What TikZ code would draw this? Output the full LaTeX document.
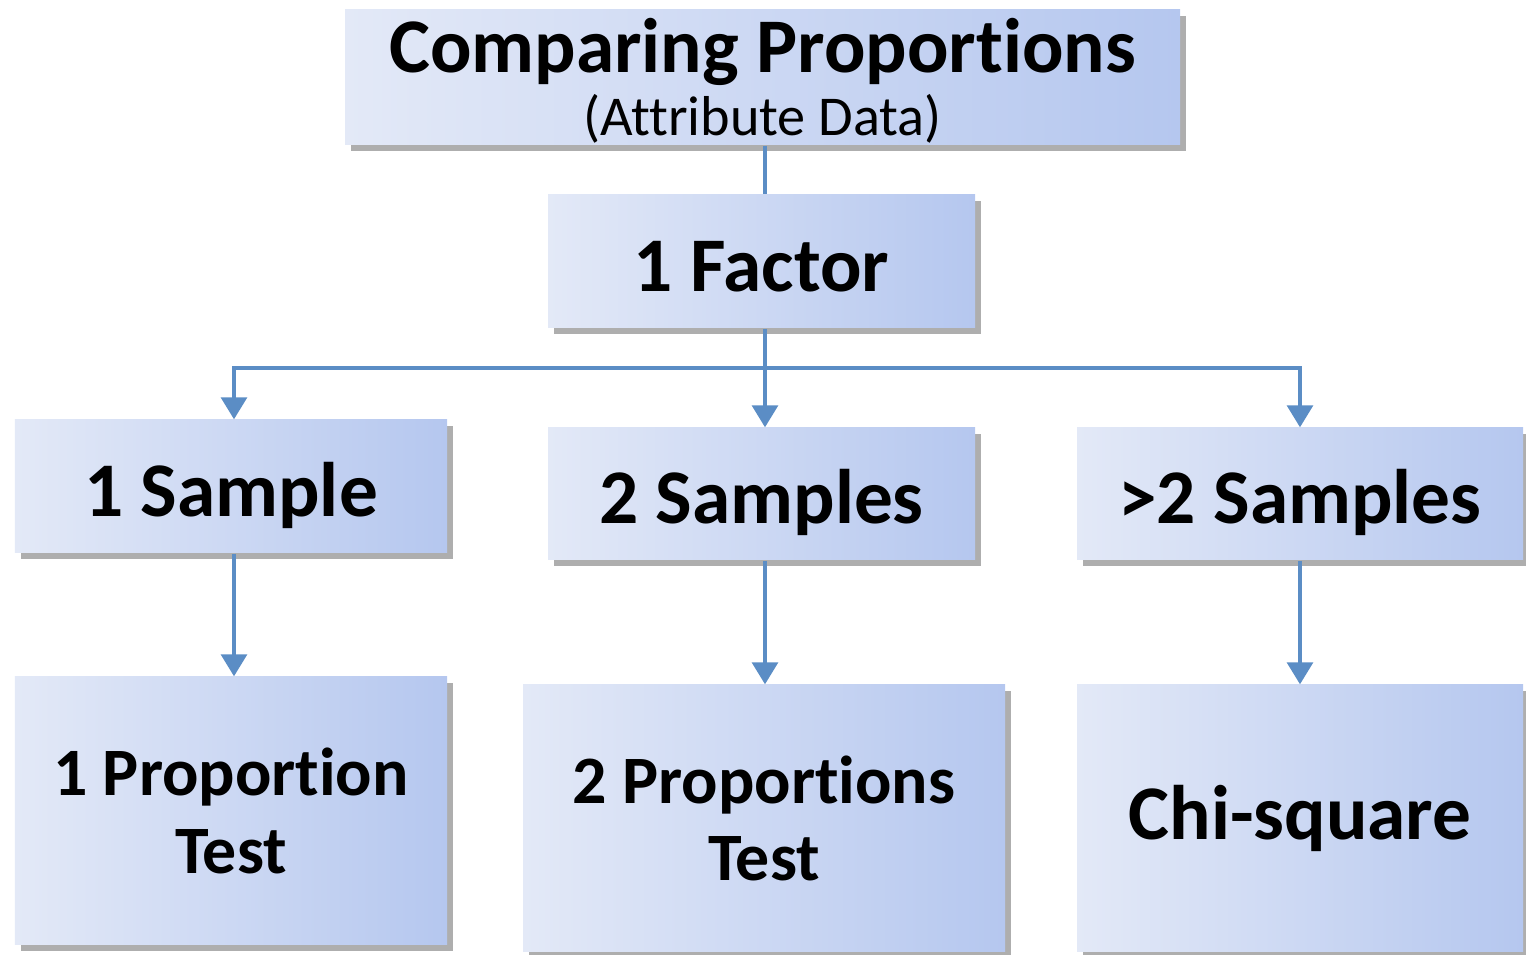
\documentclass[tikz,border=0pt]{standalone}
\usepackage{fontspec}
\setmainfont{Carlito}[Ligatures=NoCommon]
\usepackage{tikz}
\usepackage{xcolor}
\usetikzlibrary{arrows.meta, positioning, shadows}
\definecolor{boxlo}{HTML}{E3E9F7}
\definecolor{boxhi}{HTML}{B5C7EF}
\definecolor{linkblue}{HTML}{5B8DC5}
\tikzstyle{box} = [rectangle,
inner sep=0pt,
left color=boxlo, right color=boxhi,
drop shadow={shadow xshift=0.06cm, shadow yshift=-0.06cm, opacity=0.45, fill=black!70},
align=center, text centered,
font=\fontsize{22}{25}\selectfont\bfseries]
\tikzstyle{single} = [text height=19.8pt, text depth=2.8pt]
\tikzstyle{test} = [font=\fontsize{19.3}{22}\selectfont\bfseries]
\tikzstyle{arrow} = [line width=0.9pt, draw=linkblue, -{Triangle[width=0.26cm,length=0.22cm]}]
\tikzstyle{link} = [line width=0.9pt, draw=linkblue]

\begin{document}
\begin{tikzpicture}
        \useasboundingbox (0,0) rectangle (15.26,9.55);
        % top levels
        \node[box, font=\fontsize{22}{24}\selectfont\bfseries, minimum width=8.35cm, minimum height=1.35cm] (top) at (7.625,8.775)
            {\rule{0pt}{17.5pt}Comparing Proportions\\[-6pt] {\fontsize{16}{18}\selectfont\mdseries(Attribute Data)}};
        \node[box, single, minimum width=4.27cm, minimum height=1.33cm] (factor) at (7.615,6.935) {1 Factor};
        % samples
        \node[box, single, minimum width=4.32cm, minimum height=1.33cm] (onesample) at (2.31,4.685) {1 Sample};
        \node[box, single, minimum width=4.27cm, minimum height=1.32cm] (twosample) at (7.615,4.61) {2 Samples};
        \node[box, single, minimum width=4.46cm, minimum height=1.32cm] (moresample) at (13.0,4.61) {>2 Samples};
        % tests
        \node[box, test, minimum width=4.32cm, minimum height=2.68cm] (onetest) at (2.31,1.44) {1 Proportion\\Test};
        \node[box, test, minimum width=4.82cm, minimum height=2.67cm] (twotest) at (7.64,1.365) {2 Proportions\\Test};
        \node[box, minimum width=4.46cm, minimum height=2.67cm] (chitest) at (13.0,1.365) {Chi-square};

        \coordinate (bus) at (7.65,5.87);
        \draw[link] (top.south -| bus) -- (factor.north -| bus);
        \draw[link] (factor.south -| bus) -- (bus);
        \draw[arrow] (bus) -- (twosample.north -| bus);
        \draw[arrow] (bus) -| ([xshift=0.03cm]onesample.north);
        \draw[arrow] (bus) -| (moresample.north);
        \draw[arrow] ([xshift=0.03cm]onesample.south) -- ([xshift=0.03cm]onetest.north);
        \draw[arrow] (twosample.south -| bus) -- (twotest.north -| bus);
        \draw[arrow] (moresample.south) -- (chitest.north);
    \end{tikzpicture}
\end{document}
